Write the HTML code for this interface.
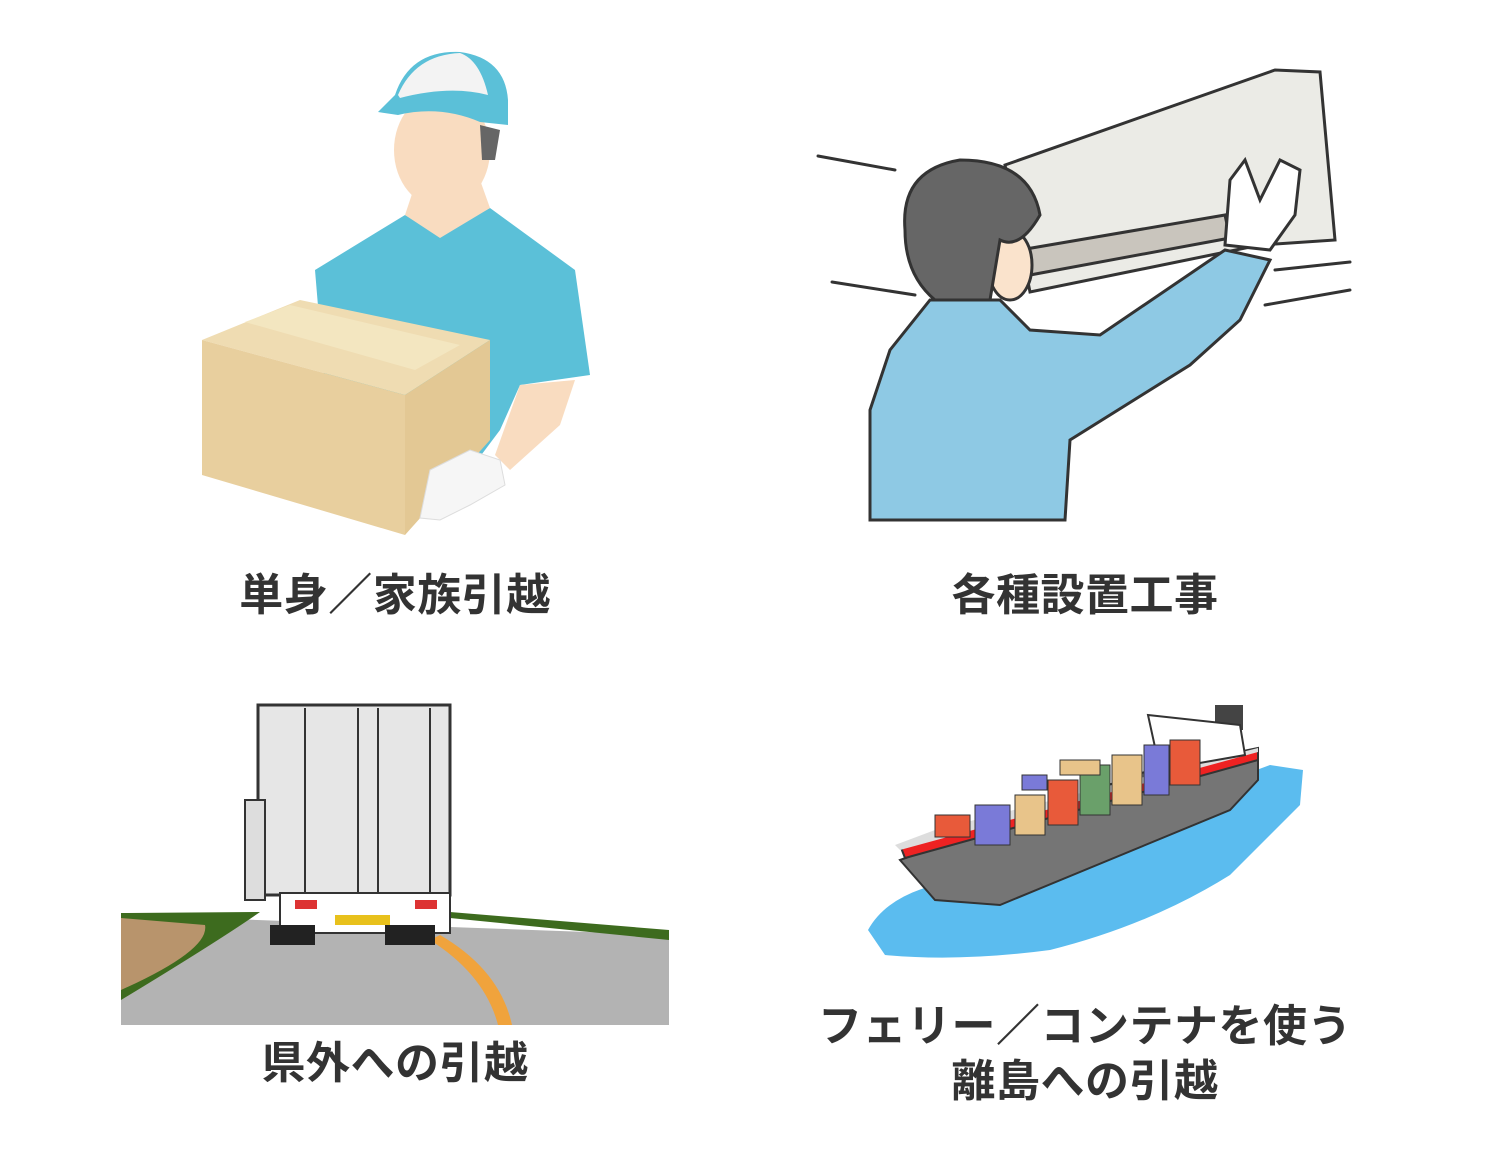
<!DOCTYPE html>
<html><head><meta charset="utf-8">
<style>
html,body{margin:0;padding:0;background:#fff;}
body{width:1500px;height:1150px;position:relative;overflow:hidden;font-family:"Liberation Sans","Noto Sans CJK JP",sans-serif;}
.t{position:absolute;color:#333;font-size:44px;font-weight:700;text-align:center;white-space:nowrap;letter-spacing:0.5px;line-height:1;}
svg{position:absolute;left:0;top:0;}
</style></head><body>
<svg width="1500" height="1150" viewBox="0 0 1500 1150">
<!-- Mover -->
<path d="M315,270 L405,215 L440,235 L490,208 L575,270 L590,375 L520,385 L500,430 L470,470 L430,470 L330,450 Z" fill="#5bc0d8"/>
<path d="M405,215 L440,238 L490,208 L480,180 L415,185 Z" fill="#f9dcc0"/>
<ellipse cx="442" cy="150" rx="48" ry="58" fill="#f9dcc0"/>
<path d="M480,125 L500,130 L495,160 L482,160 Z" fill="#666"/>
<path d="M395,95 Q410,50 460,52 Q505,58 508,100 L508,125 L480,122 Q440,105 398,115 L378,112 Z" fill="#5bc0d8"/>
<path d="M398,95 Q415,55 460,53 Q480,60 488,95 Q450,85 400,98 Z" fill="#f3f3f3"/>
<path d="M520,385 L575,380 L560,425 L510,470 L495,455 Z" fill="#f9dcc0"/>
<path d="M202,340 L300,300 L490,340 L405,395 Z" fill="#efdcb2"/>
<path d="M245,322 L290,305 L460,345 L415,370 Z" fill="#f3e6c0"/>
<path d="M202,340 L405,395 L405,535 L202,475 Z" fill="#e8cf9e"/>
<path d="M405,395 L490,340 L490,440 L405,535 Z" fill="#e3c894"/>
<path d="M430,470 L470,450 L500,460 L505,485 L470,505 L440,520 L420,518 Z" fill="#f6f6f6" stroke="#ddd"/>
<!-- AC -->
<g stroke="#333" stroke-width="3" fill="none" stroke-linecap="round">
<line x1="818" y1="156" x2="895" y2="170"/>
<line x1="832" y1="282" x2="915" y2="295"/>
<line x1="1275" y1="270" x2="1350" y2="262"/>
<line x1="1265" y1="305" x2="1350" y2="290"/>
</g>
<path d="M1005,165 L1275,70 L1320,72 L1335,240 L1260,245 L1030,292 Z" fill="#ebebe6" stroke="#333" stroke-width="3"/>
<path d="M1020,250 L1225,215 L1230,238 L1030,275 Z" fill="#c9c5bd" stroke="#333" stroke-width="3"/>
<path d="M870,520 L870,410 L890,350 L930,300 L1000,300 L1030,330 L1100,335 L1225,250 L1270,260 L1240,320 L1190,365 L1070,440 L1065,520 Z" fill="#8ec9e4" stroke="#333" stroke-width="3"/>
<path d="M1225,245 L1230,180 L1245,160 L1260,200 L1280,160 L1300,170 L1295,215 L1270,250 Z" fill="#fff" stroke="#333" stroke-width="3"/>
<ellipse cx="1010" cy="265" rx="22" ry="35" fill="#fae3cc" stroke="#333" stroke-width="3"/>
<path d="M905,230 Q900,170 960,160 Q1030,160 1040,215 Q1020,250 1000,240 L990,300 L935,300 Q905,275 905,230 Z" fill="#666" stroke="#333" stroke-width="3"/>
<!-- Truck -->
<path d="M121,915 L669,935 L669,1025 L121,1025 Z" fill="#b3b3b3"/>
<path d="M121,913 L260,912 Q220,940 121,1000 Z" fill="#3d6b1e"/>
<path d="M121,918 L205,925 Q210,950 121,990 Z" fill="#b8946c"/>
<path d="M450,912 L669,930 L669,940 L450,918 Z" fill="#3d6b1e"/>
<path d="M440,935 Q500,970 512,1025 L498,1025 Q485,975 430,940 Z" fill="#f0a33c"/>
<rect x="258" y="705" width="192" height="190" fill="#e6e6e6" stroke="#333" stroke-width="3"/>
<g stroke="#333" stroke-width="2"><line x1="305" y1="708" x2="305" y2="893"/><line x1="358" y1="708" x2="358" y2="893"/><line x1="378" y1="708" x2="378" y2="893"/><line x1="430" y1="708" x2="430" y2="893"/></g>
<rect x="245" y="800" width="20" height="100" fill="#ddd" stroke="#333" stroke-width="2"/>
<rect x="280" y="893" width="170" height="40" fill="#fff" stroke="#333" stroke-width="2"/>
<rect x="295" y="900" width="22" height="9" fill="#d33"/><rect x="415" y="900" width="22" height="9" fill="#d33"/>
<rect x="335" y="915" width="55" height="10" fill="#e8c11c"/>
<rect x="270" y="925" width="45" height="20" fill="#222"/><rect x="385" y="925" width="50" height="20" fill="#222"/>
<!-- Ship -->
<path d="M868,930 Q890,890 960,880 L1270,765 L1303,770 L1300,805 L1230,875 Q1150,925 1050,950 Q960,962 885,955 Z" fill="#5bbcef"/>
<path d="M900,860 L935,900 L1000,905 L1230,810 L1258,780 L1258,748 L1150,770 Z" fill="#757575" stroke="#333" stroke-width="2"/>
<path d="M900,845 L1258,750 L1258,760 L905,858 Z" fill="#e22" stroke="#333" stroke-width="2"/>
<path d="M895,845 L935,830 L1258,748 L1258,752 L900,850 Z" fill="#ddd"/>
<rect x="1215" y="705" width="28" height="25" fill="#444"/>
<path d="M1148,715 L1240,725 L1245,755 L1160,770 Z" fill="#fff" stroke="#333" stroke-width="2"/>
<g stroke="#333" stroke-width="1">
<rect x="935" y="815" width="35" height="22" fill="#e85a3a"/><rect x="975" y="805" width="35" height="40" fill="#7a7ad8"/><rect x="1015" y="795" width="30" height="40" fill="#e8c48a"/>
<rect x="1048" y="780" width="30" height="45" fill="#e85a3a"/><rect x="1080" y="765" width="30" height="50" fill="#6aa06a"/><rect x="1112" y="755" width="30" height="50" fill="#e8c48a"/>
<rect x="1144" y="745" width="25" height="50" fill="#7a7ad8"/><rect x="1170" y="740" width="30" height="45" fill="#e85a3a"/>
<rect x="1022" y="775" width="25" height="15" fill="#7a7ad8"/><rect x="1060" y="760" width="40" height="15" fill="#e8c48a"/>
</g>
</svg>
<div class="t" style="left:195px;width:400px;top:574px;">単身／家族引越</div>
<div class="t" style="left:885px;width:400px;top:574px;">各種設置工事</div>
<div class="t" style="left:195px;width:400px;top:1042px;">県外への引越</div>
<div class="t" style="left:785px;width:600px;top:1005px;">フェリー／コンテナを使う</div>
<div class="t" style="left:885px;width:400px;top:1060px;">離島への引越</div>
</body></html>
